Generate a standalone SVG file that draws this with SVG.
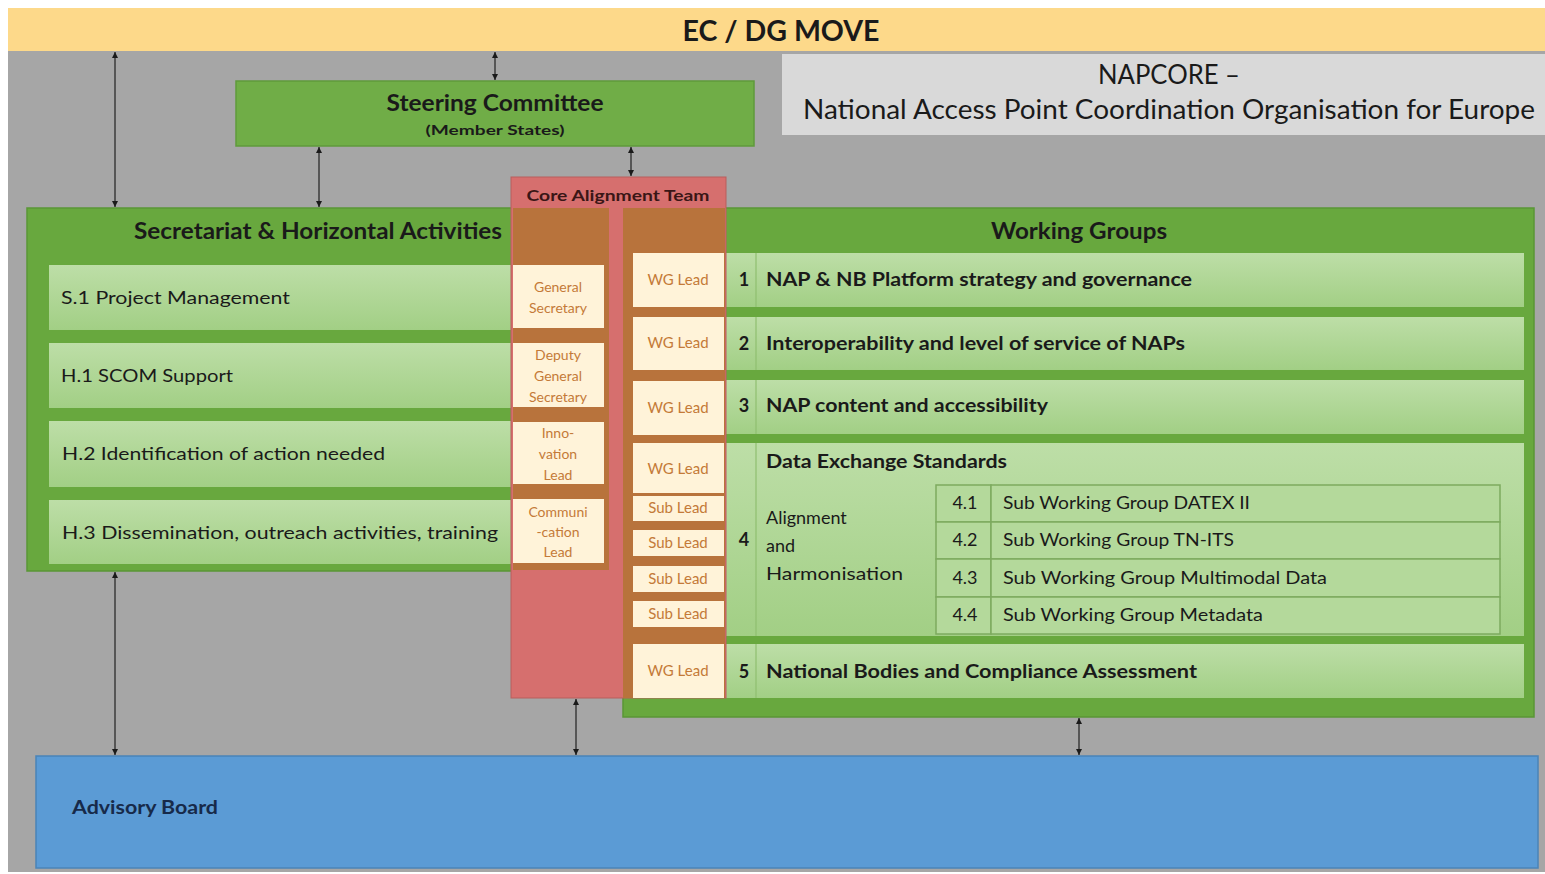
<svg xmlns="http://www.w3.org/2000/svg" width="1545" height="874" viewBox="0 0 1545 874">
<defs>
<style>
text{font-family:Lato,"Open Sans","Liberation Sans",sans-serif;fill:#1a1a1a}
.b{font-weight:bold}
.row{fill:url(#rg)}
.cream{fill:#fff3d9}
.ct{fill:#c47a38;font-size:14px;text-anchor:middle}
.wl{fill:#c47a38;font-size:15px;text-anchor:middle}
.n{font-size:18px;font-weight:bold;text-anchor:middle}
.wt{font-size:19px;font-weight:bold}
.st{font-size:18px}
.sub{fill:#b4d99b;stroke:#7daa5f;stroke-width:1.5}
.con line{stroke:#2b2b2b;stroke-width:1.3;marker-start:url(#ah);marker-end:url(#ah)}
</style>
<linearGradient id="rg" x1="0" y1="0" x2="0" y2="1">
<stop offset="0" stop-color="#bddea7"/>
<stop offset="1" stop-color="#a2cf85"/>
</linearGradient>
<marker id="ah" viewBox="0 0 10 10" refX="10" refY="5" markerWidth="6" markerHeight="6" orient="auto-start-reverse" markerUnits="userSpaceOnUse">
<path d="M0,0 L10,5 L0,10 z" fill="#1a1a1a"/>
</marker>
</defs>
<rect x="0" y="0" width="1545" height="874" fill="#ffffff"/>
<rect x="8" y="8" width="1537" height="864" fill="#a6a6a6"/>
<g id="ec">
<rect x="8" y="8" width="1537" height="43" fill="#fdd98a"/>
<text x="781" y="41" class="b" font-size="29" text-anchor="middle" textLength="197" lengthAdjust="spacingAndGlyphs">EC / DG MOVE</text>
</g>
<g id="napcore">
<rect x="782" y="54" width="763" height="81" fill="#d9d9d9"/>
<text x="1169" y="84" font-size="26" text-anchor="middle" textLength="142" lengthAdjust="spacingAndGlyphs">NAPCORE –</text>
<text x="803" y="119" font-size="26" textLength="732" lengthAdjust="spacingAndGlyphs">National Access Point Coordination Organisation for Europe</text>
</g>
<g id="steering">
<rect x="236" y="81" width="518" height="65" fill="#70ad47" stroke="#5f9a3b" stroke-width="1.5"/>
<text x="495" y="111" class="b" font-size="22" text-anchor="middle" textLength="217" lengthAdjust="spacingAndGlyphs">Steering Committee</text>
<text x="495" y="135" class="b" font-size="14" text-anchor="middle" textLength="139" lengthAdjust="spacingAndGlyphs">(Member States)</text>
</g>
<g id="secretariat">
<rect x="27" y="208" width="600" height="363" fill="#68a83e" stroke="#5a9636" stroke-width="1.5"/>
<text x="502" y="239" class="b" font-size="22" text-anchor="end" textLength="368" lengthAdjust="spacingAndGlyphs">Secretariat &amp; Horizontal Activities</text>
<rect x="49" y="265" width="464" height="65" class="row"/>
<rect x="49" y="343" width="464" height="65" class="row"/>
<rect x="49" y="421" width="464" height="66" class="row"/>
<rect x="49" y="500" width="464" height="64" class="row"/>
<text x="61" y="304" class="st" textLength="229" lengthAdjust="spacingAndGlyphs">S.1 Project Management</text>
<text x="61" y="382" class="st" textLength="172" lengthAdjust="spacingAndGlyphs">H.1 SCOM Support</text>
<text x="62" y="460" class="st" textLength="323" lengthAdjust="spacingAndGlyphs">H.2 Identification of action needed</text>
<text x="62" y="539" class="st" textLength="436" lengthAdjust="spacingAndGlyphs">H.3 Dissemination, outreach activities, training</text>
</g>
<g id="working-groups">
<rect x="623" y="208" width="911" height="509" fill="#68a83e" stroke="#5a9636" stroke-width="1.5"/>
<text x="1079" y="239" class="b" font-size="22" text-anchor="middle" textLength="176" lengthAdjust="spacingAndGlyphs">Working Groups</text>
<rect x="726" y="253" width="798" height="54" class="row"/>
<rect x="726" y="317" width="798" height="53" class="row"/>
<rect x="726" y="380" width="798" height="54" class="row"/>
<rect x="726" y="443" width="798" height="193" class="row"/>
<rect x="726" y="644" width="798" height="54" class="row"/>
<g stroke="#8fbf70" stroke-width="1.2">
<line x1="756" y1="253" x2="756" y2="307"/>
<line x1="756" y1="317" x2="756" y2="370"/>
<line x1="756" y1="380" x2="756" y2="434"/>
<line x1="756" y1="443" x2="756" y2="636"/>
<line x1="756" y1="644" x2="756" y2="698"/>
</g>
<text x="744" y="286" class="n">1</text>
<text x="766" y="286" class="wt" textLength="426" lengthAdjust="spacingAndGlyphs">NAP &amp; NB Platform strategy and governance</text>
<text x="744" y="350" class="n">2</text>
<text x="766" y="350" class="wt" textLength="419" lengthAdjust="spacingAndGlyphs">Interoperability and level of service of NAPs</text>
<text x="744" y="412" class="n">3</text>
<text x="766" y="412" class="wt" textLength="282" lengthAdjust="spacingAndGlyphs">NAP content and accessibility</text>
<text x="744" y="546" class="n">4</text>
<text x="766" y="468" class="wt" textLength="241" lengthAdjust="spacingAndGlyphs">Data Exchange Standards</text>
<text x="766" y="524" class="st">Alignment</text>
<text x="766" y="552" class="st">and</text>
<text x="766" y="580" class="st" textLength="137" lengthAdjust="spacingAndGlyphs">Harmonisation</text>
<text x="744" y="678" class="n">5</text>
<text x="766" y="678" class="wt" textLength="431" lengthAdjust="spacingAndGlyphs">National Bodies and Compliance Assessment</text>
</g>
<g id="sub-working-groups">
<rect x="936" y="485" width="55" height="37" class="sub"/>
<rect x="991" y="485" width="509" height="37" class="sub"/>
<rect x="936" y="522" width="55" height="37" class="sub"/>
<rect x="991" y="522" width="509" height="37" class="sub"/>
<rect x="936" y="559" width="55" height="38" class="sub"/>
<rect x="991" y="559" width="509" height="38" class="sub"/>
<rect x="936" y="597" width="55" height="37" class="sub"/>
<rect x="991" y="597" width="509" height="37" class="sub"/>
<text x="965" y="509" class="st" text-anchor="middle">4.1</text>
<text x="1003" y="509" class="st" textLength="247" lengthAdjust="spacingAndGlyphs">Sub Working Group DATEX II</text>
<text x="965" y="546" class="st" text-anchor="middle">4.2</text>
<text x="1003" y="546" class="st" textLength="231" lengthAdjust="spacingAndGlyphs">Sub Working Group TN-ITS</text>
<text x="965" y="584" class="st" text-anchor="middle">4.3</text>
<text x="1003" y="584" class="st" textLength="324" lengthAdjust="spacingAndGlyphs">Sub Working Group Multimodal Data</text>
<text x="965" y="621" class="st" text-anchor="middle">4.4</text>
<text x="1003" y="621" class="st" textLength="260" lengthAdjust="spacingAndGlyphs">Sub Working Group Metadata</text>
</g>
<g id="core-alignment-team">
<rect x="511" y="177" width="215" height="521" fill="#d66f6e" stroke="#b85e5c" stroke-width="1"/>
<text x="618" y="201" class="b" font-size="16" fill="#3a1616" text-anchor="middle" textLength="183" lengthAdjust="spacingAndGlyphs" style="fill:#3a1616">Core Alignment Team</text>
<rect x="513" y="208" width="96" height="362" fill="#b8733c"/>
<rect x="623" y="208" width="102" height="490" fill="#b8733c"/>
<g class="secretary-roles">
<rect x="513" y="265" width="91" height="63" class="cream"/>
<rect x="513" y="343" width="91" height="64" class="cream"/>
<rect x="513" y="422" width="91" height="62" class="cream"/>
<rect x="513" y="499" width="91" height="64" class="cream"/>
<text x="558" y="292" class="ct">General</text>
<text x="558" y="313" class="ct">Secretary</text>
<text x="558" y="360" class="ct">Deputy</text>
<text x="558" y="381" class="ct">General</text>
<text x="558" y="402" class="ct">Secretary</text>
<text x="558" y="438" class="ct">Inno-</text>
<text x="558" y="459" class="ct">vation</text>
<text x="558" y="480" class="ct">Lead</text>
<text x="558" y="517" class="ct">Communi</text>
<text x="558" y="537" class="ct">-cation</text>
<text x="558" y="557" class="ct">Lead</text>
</g>
<g class="leads">
<rect x="633" y="253" width="91" height="54" class="cream"/>
<rect x="633" y="317" width="91" height="53" class="cream"/>
<rect x="633" y="381" width="91" height="54" class="cream"/>
<rect x="633" y="443" width="91" height="50" class="cream"/>
<rect x="633" y="496" width="91" height="25" class="cream"/>
<rect x="633" y="530" width="91" height="26" class="cream"/>
<rect x="633" y="566" width="91" height="26" class="cream"/>
<rect x="633" y="601" width="91" height="26" class="cream"/>
<rect x="633" y="644" width="91" height="54" class="cream"/>
<text x="678" y="285" class="wl">WG Lead</text>
<text x="678" y="348" class="wl">WG Lead</text>
<text x="678" y="413" class="wl">WG Lead</text>
<text x="678" y="474" class="wl">WG Lead</text>
<text x="678" y="513" class="wl">Sub Lead</text>
<text x="678" y="548" class="wl">Sub Lead</text>
<text x="678" y="584" class="wl">Sub Lead</text>
<text x="678" y="619" class="wl">Sub Lead</text>
<text x="678" y="676" class="wl">WG Lead</text>
</g>
</g>
<g id="advisory-board">
<rect x="36" y="756" width="1502" height="112" fill="#5b9bd5" stroke="#4a84b8" stroke-width="1.5"/>
<text x="72" y="814" class="b" font-size="19" textLength="146" lengthAdjust="spacingAndGlyphs" style="fill:#172a4a">Advisory Board</text>
</g>
<g id="connectors" class="con">
<line x1="115" y1="52" x2="115" y2="207"/>
<line x1="495" y1="52" x2="495" y2="80"/>
<line x1="319" y1="147" x2="319" y2="207"/>
<line x1="631" y1="147" x2="631" y2="176"/>
<line x1="115" y1="572" x2="115" y2="755"/>
<line x1="576" y1="699" x2="576" y2="755"/>
<line x1="1079" y1="718" x2="1079" y2="755"/>
</g>
</svg>
